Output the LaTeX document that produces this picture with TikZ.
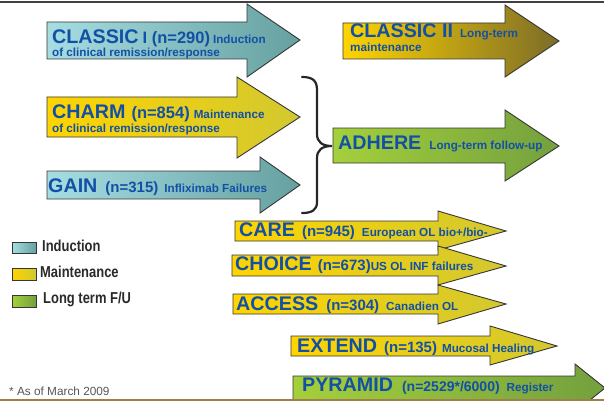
\documentclass[tikz,border=0pt]{standalone}
\usepackage{fontspec}
\setmainfont{Liberation Sans}
\newfontfamily\narrowfont[FakeStretch=0.82]{Liberation Sans}
\definecolor{outl}{HTML}{363636}
\definecolor{txtblue}{HTML}{1250A6}
\definecolor{tealL}{HTML}{A6DDE2}
\definecolor{tealR}{HTML}{66A0A0}
\definecolor{yelL}{HTML}{FFD400}
\definecolor{yelM}{HTML}{F2E020}
\definecolor{yelR}{HTML}{D2C830}
\definecolor{oliveM}{HTML}{D6C41C}
\definecolor{oliveR}{HTML}{7C6C28}
\definecolor{grnL}{HTML}{A4D03C}
\definecolor{grnR}{HTML}{74A03E}
\definecolor{legtxt}{HTML}{2A2A2A}
\definecolor{foottxt}{HTML}{555555}
\definecolor{botline}{HTML}{A08048}
\definecolor{topline}{HTML}{404040}
\newcommand\tbig{\fontsize{19.7}{20}\selectfont\bfseries}
\newcommand\tmid{\fontsize{15}{16}\selectfont\bfseries}
\newcommand\tmidb{\fontsize{16.5}{17}\selectfont\bfseries}
\newcommand\tsml{\fontsize{11.7}{13}\selectfont\bfseries}
\tikzset{
  arr/.style={draw=outl, line width=0.9pt, line join=miter},
  indshade/.style={arr, left color=tealL, right color=tealR},
  mntshade/.style={arr, left color=yelL, middle color=yelM, right color=yelR},
  oliveshade/.style={arr, left color=yelL, middle color=oliveM, right color=oliveR},
  ltshade/.style={arr, left color=grnL, right color=grnR},
  lbl/.style={anchor=base west, inner sep=0pt, text=txtblue, font=\tsml},
  leg/.style={anchor=base west, inner sep=0pt, text=legtxt, font=\narrowfont\bfseries\fontsize{15.8}{17}\selectfont},
  bracestyle/.style={draw=black!85, line width=2.2pt, line cap=round}
}
\begin{document}
\begin{tikzpicture}[x=1pt, y=-1pt]
\useasboundingbox (0,0) rectangle (604,401);
% rules
\fill[topline] (0,0.6) rectangle (604,3);
% CLASSIC I
\draw[indshade] (47,22) -- (247,22) -- (247,4) -- (300,40) -- (247,77) -- (247,59) -- (47,59) -- cycle;
% CLASSIC II
\draw[oliveshade] (343,23) -- (505,23) -- (505,5) -- (559,41) -- (505,77) -- (505,59) -- (343,59) -- cycle;
% CHARM
\draw[mntshade] (47,97) -- (237,97) -- (237,77) -- (300,117) -- (237,158) -- (237,137) -- (47,137) -- cycle;
% GAIN
\draw[indshade] (47,171) -- (260,171) -- (260,157) -- (300,185) -- (260,213) -- (260,199) -- (47,199) -- cycle;
% ADHERE
\draw[ltshade] (333,128) -- (505,128) -- (505,110) -- (559,146) -- (505,181) -- (505,163) -- (333,163) -- cycle;
% brace
\draw[bracestyle] (302,77) .. controls (312,77) and (317,80) .. (317,90) -- (317,134)
  .. controls (317,142) and (322,146) .. (332,146)
  .. controls (322,146) and (317,150) .. (317,158) -- (317,202)
  .. controls (317,210) and (312,213) .. (302,213);
% CARE
\draw[mntshade] (235,221) -- (438,221) -- (438,211) -- (506,231) -- (438,250) -- (438,241) -- (235,241) -- cycle;
% CHOICE
\draw[mntshade] (232,255) -- (438,255) -- (438,246) -- (506,266) -- (438,285) -- (438,276) -- (232,276) -- cycle;
% ACCESS
\draw[mntshade] (233,294) -- (438,294) -- (438,285) -- (506,304) -- (438,324) -- (438,314) -- (233,314) -- cycle;
% EXTEND
\draw[mntshade] (291,336) -- (490,336) -- (490,326) -- (557,346) -- (490,365) -- (490,356) -- (291,356) -- cycle;
% PYRAMID
\begin{scope}
\clip (0,0) rectangle (604,399);
\draw[ltshade] (293,376) -- (575,376) -- (575,364) -- (605,388) -- (575,412) -- (575,400) -- (293,400) -- cycle;
\end{scope}
\fill[botline] (0,398.6) rectangle (604,401);
% texts
\node[lbl] (c1a) at (52,43.5) {{\tbig CLASSIC}\hspace{4pt}{\tmidb I (n=290)}\hspace{3pt}Induction};
\node[lbl] (c1b) at (52,56.5) {of clinical remission/response};
\node[lbl] (c2a) at (350,38) {{\tbig CLASSIC II}\hspace{7pt}Long-term};
\node[lbl] (c2b) at (350,52) {maintenance};
\node[lbl] (ch1) at (52,118) {{\tbig CHARM}\hspace{6pt}{\tmidb (n=854)}\hspace{4pt}Maintenance};
\node[lbl] (ch2) at (52,132) {of clinical remission/response};
\node[lbl] (ga) at (48,192) {{\tbig GAIN}\hspace{8pt}{\tmid (n=315)}\hspace{6pt}Infliximab Failures};
\node[lbl] (ad) at (338,149) {{\tbig ADHERE}\hspace{8pt}Long-term follow-up};
\node[lbl] (ca) at (239,236) {{\tbig CARE}\hspace{7pt}{\tmid (n=945)}\hspace{7pt}European OL bio+/bio-};
\node[lbl] (cho) at (235,270) {{\tbig CHOICE}\hspace{6pt}{\tmid (n=673)}US OL INF failures};
\node[lbl] (acc) at (236,310) {{\tbig ACCESS}\hspace{8pt}{\tmid (n=304)}\hspace{7pt}Canadien OL};
\node[lbl] (ext) at (297,352) {{\tbig EXTEND}\hspace{7pt}{\tmid (n=135)}\hspace{5pt}Mucosal Healing};
\node[lbl] (pyr) at (302,391) {{\tbig PYRAMID}\hspace{9pt}{\fontsize{14}{15}\selectfont\bfseries (n=2529*/6000)}\hspace{7pt}Register};
% legend
\draw[indshade] (12,242) rectangle (36,253);
\draw[mntshade] (12,268) rectangle (36,280);
\draw[ltshade] (12,295) rectangle (36,307);
\node[leg] (l1) at (42,251) {Induction};
\node[leg] (l2) at (40,277) {Maintenance};
\node[leg] (l3) at (43,303) {Long term F/U};
\node[anchor=base west, inner sep=0pt, text=foottxt, font=\fontsize{11.8}{13}\selectfont] (fn) at (9,395) {* As of March 2009};
\end{tikzpicture}
\end{document}
